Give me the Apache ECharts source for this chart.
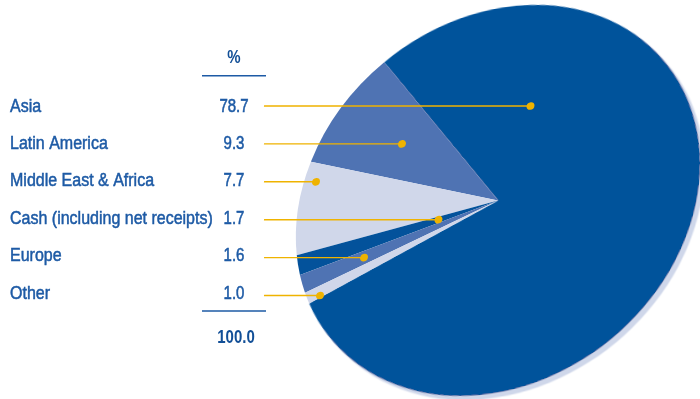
<!DOCTYPE html>
<html><head><meta charset="utf-8">
<script src="https://cdn.jsdelivr.net/npm/echarts@6/dist/echarts.min.js"></script>
<style>
html,body{margin:0;padding:0;background:#fff;overflow:hidden;width:700px;height:399px}
#wrap{position:relative;width:700px;height:399px;overflow:hidden}
#pie{position:absolute;left:0;top:0;width:700px;height:399px}
#txt{position:absolute;left:0;top:0;width:700px;height:399px;z-index:2;pointer-events:none}
</style>
</head><body><div id="wrap"><div id="pie"></div><div id="txt"></div></div>
<script>
// ---- data ----
const categories = ['Asia', 'Latin America', 'Middle East & Africa', 'Cash (including net receipts)', 'Europe', 'Other'];
const shares = [78.7, 9.3, 7.7, 1.7, 1.6, 1.0];
const headerLabel = '%';

// ---- styles / layout ----
const FONT = "'Liberation Sans', Arial, sans-serif";
const TEXT = '#1d5aa5';
const TEXT_BOLD = '#124f97';
const GOLD = '#efb300';
const sliceColors = ['#03529b', '#4f73b3', '#d0d7ea', '#03529b', '#4f73b3', '#d0d7ea'];
const SHADOW = '#cfd7ea';
const CX = 498, CY = 200.5, R0 = 190, START = 206.25;
const SA = 217 / R0, SB = 179 / R0, TILT = 40;          // ellipse stretch of the tilted pie
const TEXT_ROW0 = 106.6, TEXT_STEP = 37.4;
const LINE_ROW0 = 106, LINE_STEP = 37.9;
const LABEL_X = 10, VALUE_X = 234, LINE_X0 = 264;

// ---- tilt transform (pie drawn as a circle, then stretched) ----
const tc = Math.cos(TILT * Math.PI / 180), ts = Math.sin(TILT * Math.PI / 180);
function mul(A, B) {
  return [[A[0][0] * B[0][0] + A[0][1] * B[1][0], A[0][0] * B[0][1] + A[0][1] * B[1][1]],
          [A[1][0] * B[0][0] + A[1][1] * B[1][0], A[1][0] * B[0][1] + A[1][1] * B[1][1]]];
}
const Rp = [[tc, -ts], [ts, tc]], Rm = [[tc, ts], [-ts, tc]];
const M = mul(Rm, mul([[SA, 0], [0, SB]], Rp));
const Mi = mul(Rm, mul([[1 / SA, 0], [0, 1 / SB]], Rp));
function toPie(x, y) { const dx = x - CX, dy = y - CY; return [CX + Mi[0][0] * dx + Mi[0][1] * dy, CY + Mi[1][0] * dx + Mi[1][1] * dy]; }
function toScreen(x, y) { const dx = x - CX, dy = y - CY; return [CX + M[0][0] * dx + M[0][1] * dy, CY + M[1][0] * dx + M[1][1] * dy]; }

const total = shares.reduce((a, b) => a + b, 0);
const angles = [];
let acc = START;
shares.forEach(v => { const span = v / total * 360; angles.push([acc, acc + span]); acc += span; });

function relAngle(px, py, i, limit) {
  const dx = px - CX, dy = CY - py, r = Math.hypot(dx, dy);
  if (r > limit * R0 || r < 0.05 * R0) return null;
  const th = Math.atan2(dy, dx) * 180 / Math.PI;
  const rel = ((th - angles[i][0]) % 360 + 360) % 360;
  return rel <= angles[i][1] - angles[i][0] ? rel : null;
}
function dotFor(i) {
  const y = LINE_ROW0 + i * LINE_STEP;
  const span = angles[i][1] - angles[i][0], mid = span / 2;
  let target = null;
  if (span > 180) {
    const half = mid * Math.PI / 180, d = 2 / 3 * R0 * Math.sin(half) / half;
    const am = (angles[i][0] + mid) * Math.PI / 180;
    target = toScreen(CX + d * Math.cos(am), CY - d * Math.sin(am));
  }
  let best = null, bestScore = Infinity;
  for (let x = CX - 260; x <= CX + 260; x += 0.5) {
    const p = toPie(x, y);
    const rel = relAngle(p[0], p[1], i, 0.94);
    if (rel === null) continue;
    const score = target ? Math.abs(x - target[0]) : Math.abs(rel - mid);
    if (score < bestScore) { bestScore = score; best = [x, y]; }
  }
  return best || [LINE_X0, y];
}

// ---- pie chart (circle, stretched by CSS into the tilted ellipse) ----
const pieDiv = document.getElementById('pie');
pieDiv.style.transformOrigin = CX + 'px ' + CY + 'px';
pieDiv.style.transform = 'matrix(' + [M[0][0], M[1][0], M[0][1], M[1][1], 0, 0].join(',') + ')';
const sh = [Mi[0][0] * 4 + Mi[0][1] * 4, Mi[1][0] * 4 + Mi[1][1] * 4];

const pieData = categories.map((name, i) => {
  const item = { name: name, value: shares[i], itemStyle: { color: sliceColors[i] } };
  if (i === 0) Object.assign(item.itemStyle, { shadowColor: SHADOW, shadowOffsetX: sh[0], shadowOffsetY: sh[1], shadowBlur: 0 });
  return item;
});

const pie = echarts.init(pieDiv, null, { renderer: 'svg' });
pie.setOption({
  animation: false,
  series: [
    {
      type: 'pie', center: [CX, CY], radius: R0, startAngle: START, clockwise: false,
      silent: true, label: { show: false }, labelLine: { show: false },
      itemStyle: { borderWidth: 0 }, data: pieData
    },
    {
      type: 'pie', z: 5, center: [CX, CY], radius: R0, startAngle: START, clockwise: false,
      silent: true, avoidLabelOverlap: false,
      itemStyle: { color: 'rgba(0,0,0,0)', borderWidth: 0 },
      data: categories.map((name, i) => ({ name: name, value: shares[i] })),
      label: { show: true, formatter: ' ', width: 7.5, height: 7.5, padding: 0, fontSize: 1, backgroundColor: GOLD, borderRadius: 4 },
      labelLine: { show: true, showAbove: true, lineStyle: { color: GOLD, width: 1.4 } },
      labelLayout: function (params) {
        const d = dotFor(params.dataIndex);
        const p = toPie(d[0], d[1]);
        return {
          x: p[0], y: p[1], align: 'center', verticalAlign: 'middle',
          labelLinePoints: [toPie(LINE_X0, d[1]), toPie((LINE_X0 + d[0]) / 2, d[1]), p]
        };
      }
    }
  ]
});

// ---- table text ----
function txt(str, x, y, size, bold, color, sy) {
  return {
    type: 'text', x: x, y: y, scaleY: sy, silent: true,
    style: { text: str, font: (bold ? 'bold ' : '') + size + 'px ' + FONT, fill: color,
             stroke: bold ? null : color, lineWidth: bold ? 0 : 0.45,
             align: 'left', verticalAlign: 'middle', textAlign: 'left', textVerticalAlign: 'middle' }
  };
}
function ctxt(str, x, y, size, bold, color, sy) {
  const e = txt(str, x, y, size, bold, color, sy);
  e.style.align = 'center'; e.style.textAlign = 'center';
  return e;
}
const g = [];
g.push(ctxt(headerLabel, VALUE_X, 58.3, 15, true, TEXT_BOLD, 1.2));
g.push({ type: 'line', silent: true, shape: { x1: 202, y1: 75.7, x2: 266, y2: 75.7 }, style: { stroke: TEXT, lineWidth: 1.5 } });
categories.forEach((name, i) => {
  const y = TEXT_ROW0 + i * TEXT_STEP;
  g.push(txt(name, LABEL_X, y, 16, false, TEXT, 1.15));
  g.push(ctxt(shares[i].toFixed(1), VALUE_X, y, 15, false, TEXT, 1.2));
});
g.push({ type: 'line', silent: true, shape: { x1: 202, y1: 311, x2: 266, y2: 311 }, style: { stroke: TEXT, lineWidth: 1.5 } });
g.push(ctxt(total.toFixed(1), 236, 338.3, 15, true, TEXT_BOLD, 1.2));

const tchart = echarts.init(document.getElementById('txt'), null, { renderer: 'canvas' });
tchart.setOption({ animation: false, graphic: g });
</script>
</body></html>
